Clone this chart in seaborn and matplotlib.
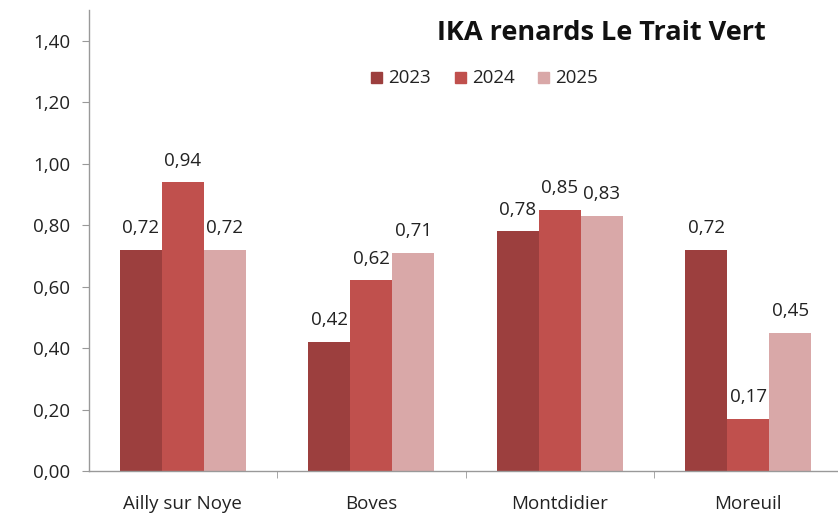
import pandas as pd
import numpy as np
import seaborn as sb
import matplotlib
matplotlib.use('Agg')
import matplotlib.pyplot as plt
from matplotlib.ticker import FixedLocator

communes = ["Ailly sur Noye", "Boves", "Montdidier", "Moreuil"]
years = ["2023", "2024", "2025"]
ika_2023 = [0.72, 0.42, 0.78, 0.72]
ika_2024 = [0.94, 0.62, 0.85, 0.17]
ika_2025 = [0.72, 0.71, 0.83, 0.45]

colors = ["#9C3F3E", "#C0504D", "#D9A8A8"]

rows = []
for year, vals in zip(years, [ika_2023, ika_2024, ika_2025]):
    for c, v in zip(communes, vals):
        rows.append({"commune": c, "annee": year, "ika": v})
df = pd.DataFrame(rows)

sb.set_style("white")
plt.rcParams['font.family'] = ['Open Sans', 'DejaVu Sans']

fig = plt.figure(figsize=(8.38, 5.13), dpi=100)
ax = fig.add_axes([88.5 / 838, 42 / 513, 754 / 838, 461 / 513])

sb.barplot(data=df, x="commune", y="ika", hue="annee", palette=colors,
           width=0.668, saturation=1, linewidth=0, ax=ax, legend=False)

for cont in ax.containers:
    ax.bar_label(cont, labels=[f"{b.get_height():.2f}".replace(".", ",") for b in cont],
                 padding=9, fontsize=13.5, color="#222222")

ax.set_ylim(0, 1.5)
ax.set_xlim(-0.5, 3.5)
yt = np.arange(0, 1.41, 0.2)
ax.set_yticks(yt)
ax.set_yticklabels([f"{t:.2f}".replace(".", ",") for t in yt], fontsize=13.5, color="#222222")
ax.set_xticks(range(len(communes)))
ax.set_xticklabels(communes, fontsize=13.5, color="#222222")
ax.tick_params(axis="x", which="major", length=0, pad=17)
ax.xaxis.set_minor_locator(FixedLocator([0.5, 1.5, 2.5]))
ax.tick_params(axis="x", which="minor", length=5, color="#999999", direction="out", bottom=True)
ax.tick_params(axis="y", length=5, color="#999999", direction="out", left=True, pad=8)
ax.set_xlabel("")
ax.set_ylabel("")
for s in ["top", "right"]:
    ax.spines[s].set_visible(False)
for s in ["left", "bottom"]:
    ax.spines[s].set_color("#999999")
    ax.spines[s].set_linewidth(1)

fig.text(601 / 838, 1 - 33 / 513, "IKA renards Le Trait Vert",
         ha="center", va="center", fontsize=19.5, fontweight="bold", color="#111111")

# legend
lx = [371, 455, 538]
for x0, year, col in zip(lx, years, colors):
    fig.patches.append(plt.Rectangle((x0 / 838, 1 - 83 / 513), 11 / 838, 11 / 513,
                                     transform=fig.transFigure, color=col))
    fig.text((x0 + 17) / 838, 1 - 78 / 513, year, ha="left", va="center",
             fontsize=13.5, color="#222222")

fig.savefig("out.png", dpi=100)
